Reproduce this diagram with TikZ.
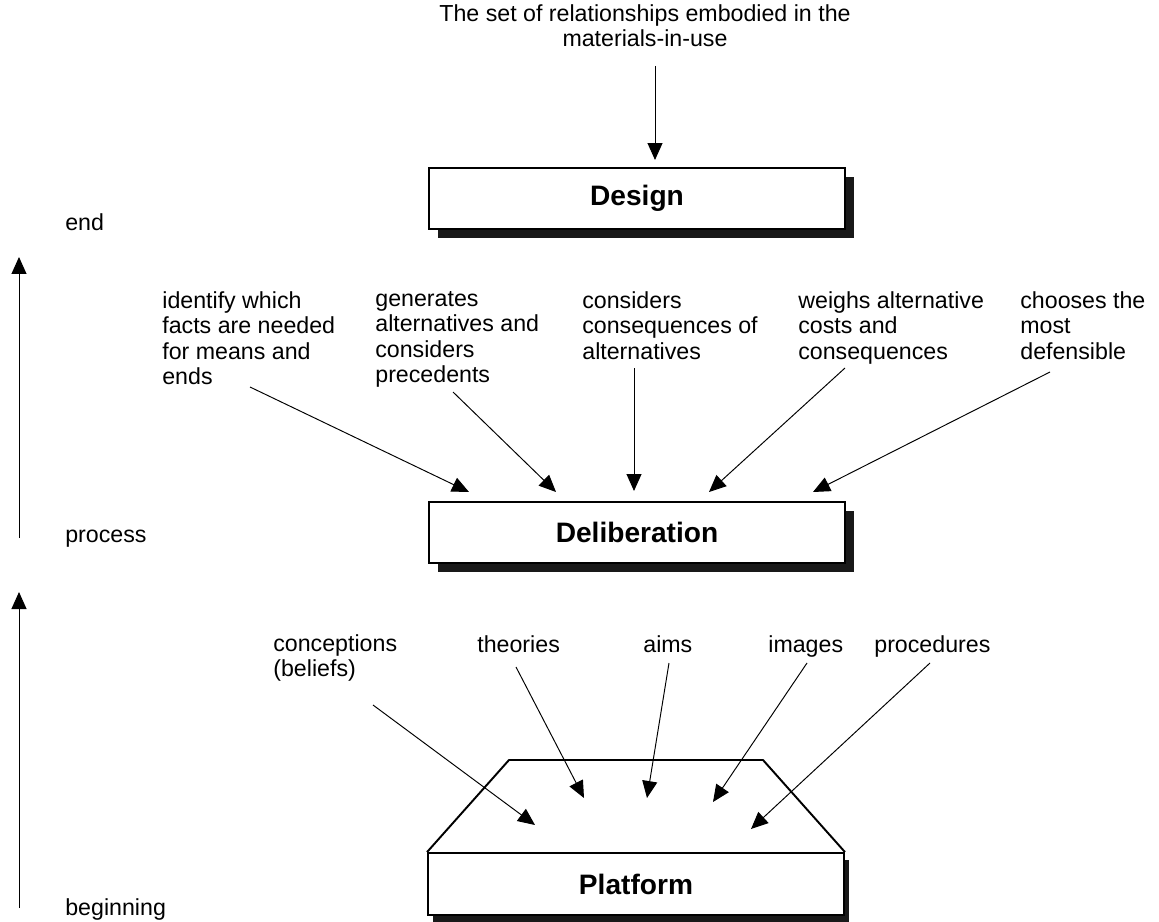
\documentclass[tikz,border=0pt]{standalone}
\usepackage{fontspec}
\setmainfont{Liberation Sans}
\usetikzlibrary{arrows.meta}
\usetikzlibrary{shadows}

\tikzset{
	stagebox/.style={draw, line width=1.1pt, fill=white, minimum width=8.32cm, minimum height=1.22cm, inner sep=0pt, font=\fontsize{16}{19}\selectfont\bfseries},
	stageshadow/.style={drop shadow={shadow xshift=0.18cm, shadow yshift=-0.18cm, fill=black!90, opacity=1}},
	note/.style={anchor=north west, align=left, inner sep=0pt, font=\fontsize{13.2}{14.5}\selectfont, execute at begin node=\strut},
	feed/.style={-{Triangle[length=3.4mm,width=3mm]}, line width=0.55pt}
}

\begin{document}
\begin{tikzpicture}[x=0.02cm, y=-0.02cm]
	% page: 1159 x 922 px, 1px = 0.2mm
	\useasboundingbox (0,0) rectangle (1159,922);

	% stages
	\node[stagebox, stageshadow] (design) at (637,198.5) {Design};
	\node[stagebox, stageshadow] (delib) at (637,532.5) {Deliberation};
	\node[stagebox, minimum height=1.24cm, drop shadow={shadow xshift=0.1cm, shadow yshift=-0.13cm, fill=black!90, opacity=1}] (platform) at (636,884) {Platform};
	\draw[line width=1.1pt, line join=round] (platform.north west) -- (509,760) -- (763,760) -- (platform.north east);

	% time axis
	\node[note] (endlbl) at (65,212) {end};
	\node[note] (proclbl) at (65,524) {process};
	\node[note] (beglbl) at (65,897) {beginning};
	\coordinate (axa) at (19,538);
	\coordinate (axat) at (19,257);
	\coordinate (axb) at (19,908);
	\coordinate (axbt) at (19,592);
	\draw[feed] (axa) -- (axat);
	\draw[feed] (axb) -- (axbt);

	% into design
	\node[note, anchor=north, align=center] (rel) at (645,4) {The set of relationships embodied in the\\materials-in-use};
	\coordinate (rels) at (655,66);
	\coordinate (relt) at (655,160);
	\draw[feed] (rels) -- (relt);

	% into deliberation
	\node[note] (facts) at (162,291) {identify which\\facts are needed\\for means and\\ends};
	\node[note] (alts) at (375,291) {generates\\alternatives and\\considers\\precedents};
	\node[note] (conseq) at (582,291) {considers\\consequences of\\alternatives};
	\node[note] (costs) at (798,291) {weighs alternative\\costs and\\consequences};
	\node[note] (choose) at (1020,291) {chooses the\\most\\defensible};

	\coordinate (factss) at (250,387);
	\coordinate (factst) at (469,492);
	\coordinate (altss) at (453,392);
	\coordinate (altst) at (556,492);
	\coordinate (conseqs) at (634,368);
	\coordinate (conseqt) at (634,491);
	\coordinate (costss) at (845,368);
	\coordinate (costst) at (709,492);
	\coordinate (chooses) at (1050,372);
	\coordinate (chooset) at (813,492);
	\draw[feed] (factss) -- (factst);
	\draw[feed] (altss) -- (altst);
	\draw[feed] (conseqs) -- (conseqt);
	\draw[feed] (costss) -- (costst);
	\draw[feed] (chooses) -- (chooset);

	% into platform
	\node[note] (concep) at (273,634) {conceptions\\(beliefs)};
	\node[note] (theor) at (477,634) {theories};
	\node[note] (aims) at (643,634) {aims};
	\node[note] (imgs) at (768,634) {images};
	\node[note] (proc) at (874,634) {procedures};

	\coordinate (conceps) at (373,705);
	\coordinate (concept) at (535,825);
	\coordinate (theors) at (516,667);
	\coordinate (theort) at (584,798);
	\coordinate (aimss) at (669,663);
	\coordinate (aimst) at (647,798);
	\coordinate (imgss) at (807,663);
	\coordinate (imgst) at (713,802);
	\coordinate (procs) at (930,663);
	\coordinate (proct) at (751,829);
	\draw[feed] (conceps) -- (concept);
	\draw[feed] (theors) -- (theort);
	\draw[feed] (aimss) -- (aimst);
	\draw[feed] (imgss) -- (imgst);
	\draw[feed] (procs) -- (proct);
\end{tikzpicture}
\end{document}
